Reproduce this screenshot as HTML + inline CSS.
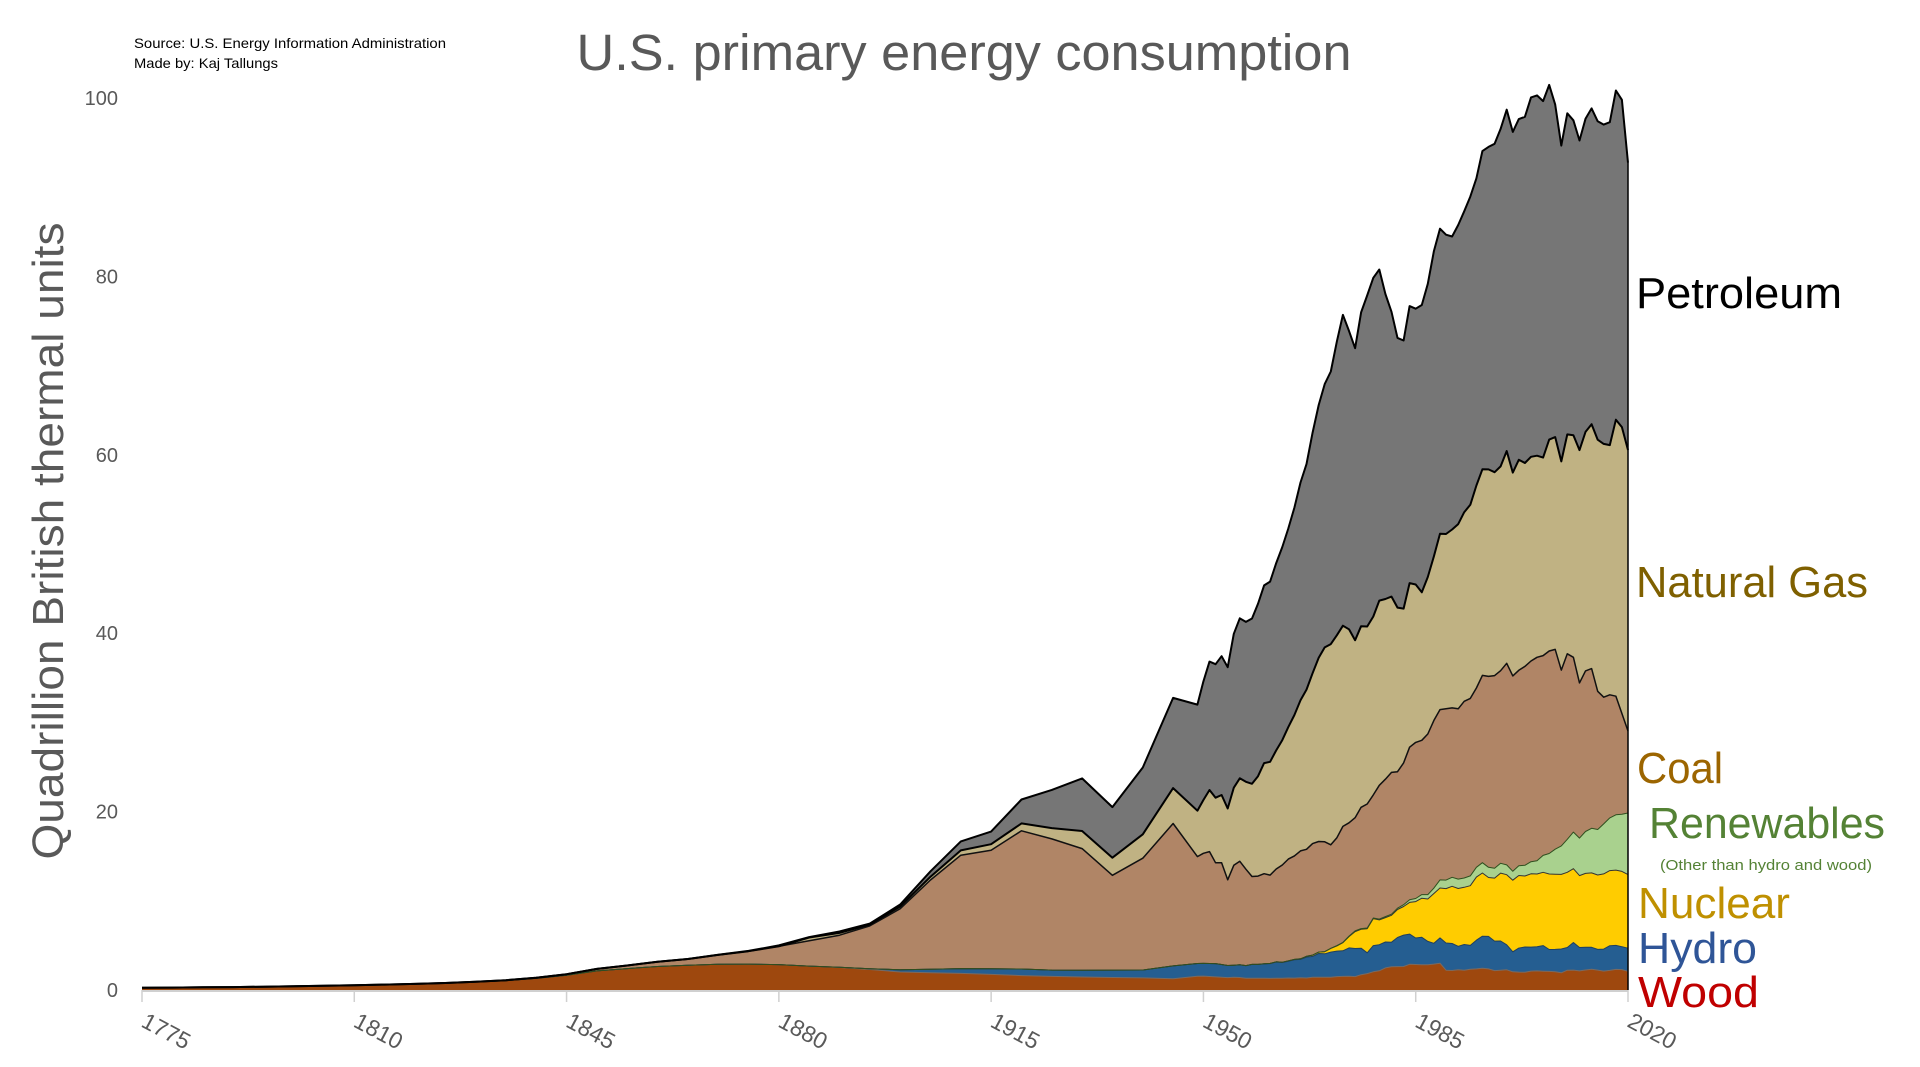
<!DOCTYPE html>
<html><head><meta charset="utf-8"><title>U.S. primary energy consumption</title>
<style>
html,body{margin:0;padding:0;background:#fff;}
svg{display:block;font-family:"Liberation Sans",sans-serif;}
</style></head>
<body>
<svg id="chart" width="1920" height="1067" viewBox="0 0 1920 1067" xmlns="http://www.w3.org/2000/svg">
<text x="134" y="48" font-size="14" fill="#000" textLength="312" lengthAdjust="spacingAndGlyphs">Source: U.S. Energy Information Administration</text>
<text x="134" y="68" font-size="14" fill="#000" textLength="144" lengthAdjust="spacingAndGlyphs">Made by: Kaj Tallungs</text>
<text x="964" y="70" font-size="51" fill="#595959" text-anchor="middle" textLength="775" lengthAdjust="spacingAndGlyphs">U.S. primary energy consumption</text>
<text transform="translate(63,541) rotate(-90)" font-size="44" fill="#595959" text-anchor="middle" textLength="637" lengthAdjust="spacingAndGlyphs">Quadrillion British thermal units</text>
<g id="yticks"></g>
<g id="areas"></g>
<g id="xaxis"></g>
<g id="labels">
<text x="1636" y="308" font-size="44" fill="#000" textLength="206" lengthAdjust="spacingAndGlyphs">Petroleum</text>
<text x="1636" y="597" font-size="44" fill="#7f6000" textLength="232" lengthAdjust="spacingAndGlyphs">Natural Gas</text>
<text x="1637" y="783" font-size="44" fill="#9c6500" textLength="86" lengthAdjust="spacingAndGlyphs">Coal</text>
<text x="1649" y="838" font-size="44" fill="#548235" textLength="236" lengthAdjust="spacingAndGlyphs">Renewables</text>
<text x="1660" y="870" font-size="15" fill="#548235" textLength="212" lengthAdjust="spacingAndGlyphs">(Other than hydro and wood)</text>
<text x="1638" y="918" font-size="44" fill="#bf9000" textLength="152" lengthAdjust="spacingAndGlyphs">Nuclear</text>
<text x="1638" y="963" font-size="44" fill="#2f5597" textLength="119" lengthAdjust="spacingAndGlyphs">Hydro</text>
<text x="1638" y="1007" font-size="44" fill="#c00000" textLength="121" lengthAdjust="spacingAndGlyphs">Wood</text>
</g>
</svg>
<script>
const years = [1775,1780,1785,1790,1795,1800,1805,1810,1815,1820,1825,1830,1835,1840,1845,1850,1855,1860,1865,1870,1875,1880,1885,1890,1895,1900,1905,1910,1915,1920,1925,1930,1935,1940,1945,
1949,1950,1951,1952,1953,1954,1955,1956,1957,1958,1959,1960,1961,1962,1963,1964,1965,1966,1967,1968,1969,1970,1971,1972,1973,1974,1975,1976,1977,1978,1979,1980,1981,1982,1983,1984,1985,1986,1987,1988,1989,1990,1991,1992,1993,1994,1995,1996,1997,1998,1999,2000,2001,2002,2003,2004,2005,2006,2007,2008,2009,2010,2011,2012,2013,2014,2015,2016,2017,2018,2019,2020];
const wood = [0.25,0.27,0.3,0.33,0.37,0.42,0.47,0.53,0.6,0.68,0.78,0.9,1.05,1.3,1.65,2.14,2.4,2.64,2.77,2.89,2.9,2.85,2.68,2.52,2.3,2.02,1.94,1.86,1.75,1.61,1.53,1.46,1.4,1.36,1.26,
1.55,1.56,1.51,1.47,1.42,1.39,1.42,1.4,1.32,1.32,1.32,1.32,1.3,1.32,1.31,1.34,1.33,1.37,1.34,1.42,1.44,1.43,1.43,1.5,1.53,1.54,1.5,1.71,1.84,2.04,2.15,2.48,2.6,2.62,2.63,2.88,2.86,2.84,2.82,2.9,3.0,2.22,2.19,2.28,2.21,2.32,2.37,2.44,2.37,2.18,2.22,2.26,2.04,2.01,2.0,2.12,2.14,2.11,2.09,2.04,1.93,2.22,2.23,2.14,2.24,2.32,2.23,2.12,2.2,2.31,2.29,2.1];
const hydro = [0,0,0,0,0,0,0,0,0,0,0,0,0,0,0,0,0,0,0,0,0,0,0,0.02,0.09,0.25,0.39,0.54,0.63,0.74,0.7,0.75,0.83,0.88,1.44,
1.42,1.42,1.46,1.49,1.44,1.36,1.36,1.43,1.42,1.55,1.55,1.61,1.66,1.82,1.77,1.89,2.06,2.06,2.35,2.35,2.65,2.63,2.82,2.86,2.86,3.18,3.15,2.98,2.33,2.94,2.93,2.9,2.76,3.27,3.53,3.39,2.97,3.07,2.63,2.33,2.84,3.05,3.02,2.62,2.89,2.68,3.21,3.59,3.64,3.3,3.27,2.81,2.24,2.69,2.82,2.69,2.7,2.87,2.45,2.51,2.67,2.54,3.1,2.63,2.56,2.47,2.32,2.47,2.77,2.69,2.56,2.59];
const nuclear = [0,0,0,0,0,0,0,0,0,0,0,0,0,0,0,0,0,0,0,0,0,0,0,0,0,0,0,0,0,0,0,0,0,0,0,
0,0,0,0,0,0,0,0,0,0,0.002,0.006,0.02,0.026,0.038,0.04,0.043,0.064,0.088,0.142,0.154,0.239,0.413,0.584,0.91,1.27,1.9,2.11,2.7,3.02,2.78,2.74,3.01,3.13,3.2,3.55,4.08,4.38,4.75,5.59,5.6,6.1,6.42,6.48,6.41,6.69,7.08,7.09,6.6,7.07,7.61,7.86,8.03,8.14,7.96,8.22,8.16,8.21,8.46,8.43,8.36,8.43,8.27,8.06,8.27,8.34,8.34,8.43,8.42,8.44,8.45,8.25];
const renewables = [0,0,0,0,0,0,0,0,0,0,0,0,0,0,0,0,0,0,0,0,0,0,0,0,0,0,0,0,0,0,0,0,0,0,0,
0,0,0,0,0,0,0,0,0,0,0,0,0,0,0,0,0,0,0,0,0,0.01,0.01,0.03,0.04,0.05,0.07,0.08,0.08,0.07,0.09,0.11,0.13,0.15,0.2,0.3,0.35,0.4,0.5,0.6,0.9,0.95,1.0,1.05,1.05,1.1,1.1,1.15,1.15,1.1,1.1,1.1,1.0,1.1,1.2,1.35,1.5,1.9,2.3,2.8,3.2,3.7,4.1,4.2,4.7,5.0,5.1,5.6,5.9,6.2,6.4,6.9];
const coal = [0,0,0,0,0,0,0,0,0,0,0.01,0.02,0.05,0.08,0.12,0.22,0.35,0.52,0.7,1.05,1.45,2.05,2.84,3.6,4.8,6.84,10.0,12.71,13.29,15.5,14.71,13.64,10.63,12.54,15.97,
11.98,12.35,12.55,11.3,11.4,9.6,11.2,11.6,10.8,9.85,9.9,10.1,9.9,10.4,10.9,11.4,11.6,12.1,12.0,12.5,12.4,12.3,11.6,12.1,13.0,12.7,12.7,13.6,13.9,13.8,15.0,15.4,15.9,15.3,15.9,17.1,17.5,17.3,18.0,18.8,19.1,19.2,18.99,19.1,19.8,19.9,20.1,21.0,21.4,21.6,21.6,22.6,21.9,21.9,22.3,22.5,22.8,22.4,22.7,22.4,19.7,20.8,19.6,17.4,18.0,17.9,15.5,14.2,13.8,13.3,11.3,9.2];
const naturalGas = [0,0,0,0,0,0,0,0,0,0,0,0,0,0,0,0,0,0,0,0,0,0,0.37,0.26,0.15,0.25,0.37,0.54,0.67,0.83,1.21,1.97,1.97,2.67,3.97,
5.15,5.97,6.9,7.3,7.6,8.0,8.7,9.3,9.8,10.4,11.2,12.4,12.7,13.3,14.0,14.8,15.8,16.9,17.9,19.1,20.6,21.8,22.5,22.7,22.5,21.7,19.9,20.3,19.9,20.0,20.7,20.2,19.7,18.4,17.3,18.4,17.7,16.6,17.6,18.4,19.7,19.6,20.0,20.7,21.2,21.7,22.7,23.1,23.2,22.8,22.9,23.8,22.8,23.6,22.8,22.9,22.6,22.2,23.7,23.8,23.4,24.6,24.9,26.1,26.8,27.4,28.2,28.4,28.0,31.0,32.1,31.5];
const petroleum = [0,0,0,0,0,0,0,0,0,0,0,0,0,0,0,0,0,0.003,0.01,0.011,0.03,0.096,0.04,0.156,0.1,0.229,0.61,1.01,1.42,2.68,4.28,5.9,5.68,7.49,10.11,
11.9,13.3,14.4,14.96,15.56,15.84,17.25,17.94,17.93,18.53,19.32,19.92,20.2,20.99,21.65,22.27,23.25,24.4,25.28,26.98,28.34,29.52,30.56,32.95,34.84,33.45,32.73,35.18,37.12,37.97,37.12,34.2,31.93,30.23,30.05,31.05,30.92,32.2,32.87,34.22,34.21,33.55,32.85,33.53,33.74,34.56,34.44,35.68,36.16,36.82,37.84,38.26,38.19,38.2,38.81,40.29,40.39,39.96,39.77,37.28,35.4,36.0,35.3,34.7,35.1,35.4,35.7,35.8,36.2,36.9,36.7,32.2];
const yTicks = [0,20,40,60,80,100];
const xTicks = [1775,1810,1845,1880,1915,1950,1985,2020];

const NS = "http://www.w3.org/2000/svg";
const X0 = 142, X1 = 1628, Y0 = 990, Y100 = 98;
function xs(yr){ return X0 + (yr - 1775) / (2020 - 1775) * (X1 - X0); }
function ys(v){ return Y0 - v / 100 * (Y0 - Y100); }
function mk(tag, attrs){ const e = document.createElementNS(NS, tag); for (const k in attrs) e.setAttribute(k, attrs[k]); return e; }

const yg = document.getElementById('yticks');
yTicks.forEach(t => {
  const el = mk('text', {x:118, y:ys(t)+7, 'font-size':20, fill:'#595959', 'text-anchor':'end'});
  
  
  el.textContent = t;
  yg.appendChild(el);
});

const layers = [
  {name:'wood', data:wood, fill:'#9e480e', stroke:'#7a6a60', sw:1},
  {name:'hydro', data:hydro, fill:'#255e91', stroke:'#1f3f5f', sw:1},
  {name:'nuclear', data:nuclear, fill:'#ffcc00', stroke:'#333', sw:1},
  {name:'renewables', data:renewables, fill:'#a9d18e', stroke:'#2f4f1f', sw:1},
  {name:'coal', data:coal, fill:'#b08566', stroke:'#111', sw:1.5},
  {name:'natural-gas', data:naturalGas, fill:'#c0b283', stroke:'#000', sw:2},
  {name:'petroleum', data:petroleum, fill:'#767676', stroke:'#000', sw:2}
];
const ag = document.getElementById('areas');
let base = years.map(() => 0);
const tops = [];
layers.forEach(L => {
  const top = base.map((b, i) => b + L.data[i]);
  let d = '';
  years.forEach((yr, i) => { d += (i ? 'L' : 'M') + xs(yr).toFixed(1) + ',' + ys(top[i]).toFixed(1); });
  for (let i = years.length - 1; i >= 0; i--) d += 'L' + xs(years[i]).toFixed(1) + ',' + ys(base[i]).toFixed(1);
  d += 'Z';
  const p = mk('path', {d:d, fill:L.fill, stroke:'none'});
  
  
  ag.appendChild(p);
  tops.push({L:L, top:top});
  base = top;
});
tops.forEach(T => {
  let d = '';
  years.forEach((yr, i) => { d += (i ? 'L' : 'M') + xs(yr).toFixed(1) + ',' + ys(T.top[i]).toFixed(1); });
  const l = mk('path', {d:d, fill:'none', stroke:T.L.stroke, 'stroke-width':T.L.sw, 'stroke-linejoin':'round'});
  
  
  ag.appendChild(l);
});
const last = years.length - 1;
const edge = mk('line', {x1:xs(2020), x2:xs(2020), y1:ys(base[last]), y2:Y0, stroke:'#000', 'stroke-width':1.5});


ag.appendChild(edge);

const xg = document.getElementById('xaxis');
const axis = mk('line', {x1:X0, x2:X1, y1:Y0+1, y2:Y0+1, stroke:'#d0d0d0', 'stroke-width':2});


xg.appendChild(axis);
xTicks.forEach(t => {
  const x = xs(t);
  const tk = mk('line', {x1:x, x2:x, y1:Y0, y2:Y0+12, stroke:'#d0d0d0', 'stroke-width':1.5});
  
  
  xg.appendChild(tk);
  const tx = mk('text', {x:0, y:0, 'font-size':23, fill:'#595959', transform:'translate(' + (x-2) + ',' + (Y0+36) + ') rotate(28)'});
  
  
  tx.textContent = t;
  xg.appendChild(tx);
});
</script>
</body></html>
